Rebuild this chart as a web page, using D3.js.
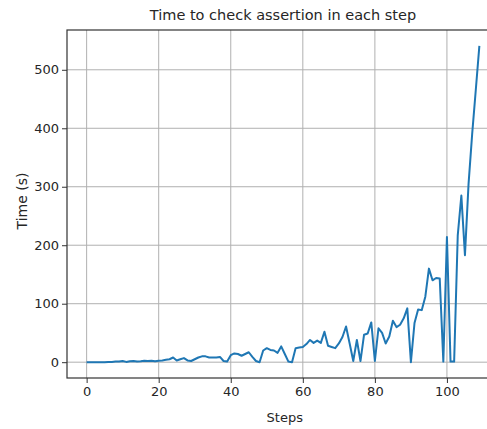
<!DOCTYPE html>
<html>

<head>
    <title>Time to check assertion in each step</title>
    <script src="https://cdnjs.cloudflare.com/ajax/libs/d3/7.8.5/d3.min.js"></script>
    <style>
        body {
            margin: 0;
            background: #fff;
        }

        text {
            font-family: "DejaVu Sans", sans-serif;
            fill: #262626;
        }

        .grid line {
            stroke: #b0b0b0;
            stroke-width: 1;
        }
    </style>
</head>

<body>
    <div id="chart"></div>
    <script>
        // Time (s) needed at each step
        const steps = d3.range(0, 110);
        const times = [
            0, 0, 0, 0, 0, 0, 0.5, 0.5, 1, 1,
            2, 0.5, 1.5, 2, 1, 1.5, 2.5, 2, 2.5, 1.5,
            2.5, 3, 4, 5, 8, 3, 5, 7, 3, 2,
            5, 8, 10, 10, 8, 8, 8, 9, 2, 1,
            12, 15, 14, 11, 14, 17, 9, 2, 0, 20,
            24, 21, 20, 16, 27, 14, 1, 0, 24, 25,
            26, 31, 38, 33, 37, 33, 52, 28, 26, 24,
            32, 43, 61, 32, 2, 38, 2, 47, 49, 68,
            2, 58, 50, 32, 44, 71, 60, 64, 75, 92,
            0, 67, 90, 89, 112, 160, 140, 144, 143, 1,
            214, 1, 1, 217, 285, 183, 305, 390, 465, 541
        ];
        const xTicks = [0, 20, 40, 60, 80, 100];
        const yTicks = [0, 100, 200, 300, 400, 500];

        const width = 487, height = 429;
        const margin = { top: 30, right: -12, bottom: 51, left: 67 };
        const innerW = width - margin.left - margin.right;
        const innerH = height - margin.top - margin.bottom;

        const svg = d3.select("#chart")
            .append("svg")
            .attr("width", width)
            .attr("height", height);

        // matplotlib-like 5% padding around the data
        const xPad = (d3.max(steps) - d3.min(steps)) * 0.05;
        const yPad = (d3.max(times) - d3.min(times)) * 0.05;

        const x = d3.scaleLinear()
            .domain([d3.min(steps) - xPad, d3.max(steps) + xPad])
            .range([0, innerW]);

        const y = d3.scaleLinear()
            .domain([d3.min(times) - yPad, d3.max(times) + yPad])
            .range([innerH, 0]);

        const g = svg.append("g")
            .attr("transform", `translate(${margin.left},${margin.top})`);

        // Grid
        g.append("g")
            .attr("class", "grid")
            .selectAll("line.v")
            .data(xTicks)
            .enter()
            .append("line")
            .attr("x1", d => x(d)).attr("x2", d => x(d))
            .attr("y1", 0).attr("y2", innerH);

        g.append("g")
            .attr("class", "grid")
            .selectAll("line.h")
            .data(yTicks)
            .enter()
            .append("line")
            .attr("x1", 0).attr("x2", innerW)
            .attr("y1", d => y(d)).attr("y2", d => y(d));

        // Data line
        const line = d3.line()
            .x((d, i) => x(steps[i]))
            .y(d => y(d));

        g.append("path")
            .datum(times)
            .attr("fill", "none")
            .attr("stroke", "#1f77b4")
            .attr("stroke-width", 2)
            .attr("stroke-linejoin", "round")
            .attr("d", line);

        // Axes
        const xAxis = g.append("g")
            .attr("transform", `translate(0,${innerH})`)
            .call(d3.axisBottom(x).tickValues(xTicks).tickSize(5).tickPadding(4));

        const yAxis = g.append("g")
            .call(d3.axisLeft(y).tickValues(yTicks).tickSize(5).tickPadding(3));

        [xAxis, yAxis].forEach(a => {
            a.select(".domain").remove();
            a.selectAll(".tick line").attr("stroke", "#333").attr("stroke-width", 1);
            a.selectAll(".tick text")
                .style("font-size", "13px")
                .attr("fill", "#262626");
        });

        // Frame
        g.append("rect")
            .attr("x", 0).attr("y", 0)
            .attr("width", innerW).attr("height", innerH)
            .attr("fill", "none")
            .attr("stroke", "#333")
            .attr("stroke-width", 1.2);

        // Labels
        svg.append("text")
            .attr("x", margin.left + innerW / 2)
            .attr("y", 20)
            .attr("text-anchor", "middle")
            .style("font-size", "14.5px")
            .text("Time to check assertion in each step");

        svg.append("text")
            .attr("x", margin.left + x(55))
            .attr("y", 422)
            .attr("text-anchor", "middle")
            .style("font-size", "13px")
            .text("Steps");

        svg.append("text")
            .attr("transform", `translate(27,201) rotate(-90)`)
            .attr("text-anchor", "middle")
            .style("font-size", "14px")
            .text("Time (s)");
    </script>
</body>

</html>
